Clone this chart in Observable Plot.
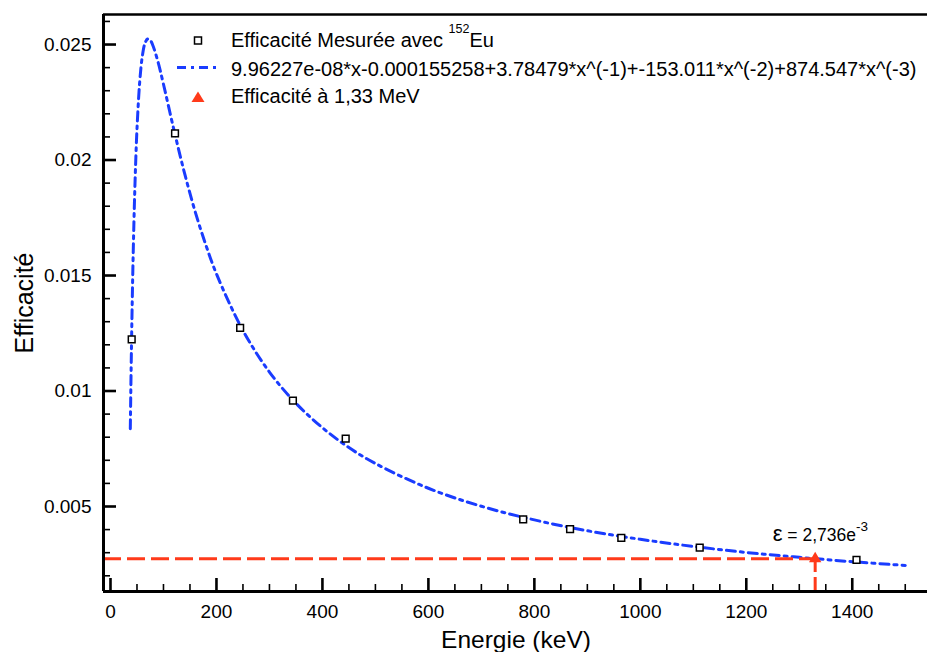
<!DOCTYPE html>
<html>
<head>
<meta charset="utf-8">
<script src="https://cdn.jsdelivr.net/npm/d3@7"></script>
<script src="https://cdn.jsdelivr.net/npm/@observablehq/plot@0.6"></script>
<style>
  body { margin: 0; background: #fff; }
  svg { display: block; }
</style>
</head>
<body>
<div id="chart"></div>
<script>
// ---- Data ----
const measuredEnergy = [40, 121.8, 244.7, 344.3, 443.9, 778.9, 867.4, 964.1, 1112.1, 1408.0];
const measuredEfficiency = [0.01224, 0.02115, 0.01273, 0.00958, 0.00794, 0.00444, 0.00402, 0.00364, 0.00322, 0.00269];

const fitEnergy = [37.4, 38, 39, 40, 42, 45, 48, 50, 55, 60, 65, 70, 75, 80, 90, 100, 120, 140, 160, 180, 200, 250, 300, 350, 400, 450, 500, 600, 700, 800, 900, 1000, 1100, 1200, 1300, 1400, 1500];
const fitEfficiency = [0.00837, 0.00942, 0.01104, 0.01250, 0.01503, 0.01799, 0.02020, 0.02134, 0.02334, 0.02448, 0.02505, 0.02524, 0.02519, 0.02496, 0.02422, 0.02328, 0.02128, 0.01941, 0.01775, 0.01632, 0.01507, 0.01262, 0.01082, 0.00947, 0.00841, 0.00755, 0.00686, 0.00579, 0.00501, 0.00442, 0.00395, 0.00358, 0.00327, 0.00301, 0.00280, 0.00261, 0.00245];

const refEnergy = [1330];
const refEfficiency = [0.002736];

const xMajorTicks = [0, 200, 400, 600, 800, 1000, 1200, 1400];
const xMinorTicks = [50, 100, 150, 250, 300, 350, 450, 500, 550, 650, 700, 750, 850, 900, 950, 1050, 1100, 1150, 1250, 1300, 1350, 1450, 1500];
const yMajorTicks = [0.005, 0.01, 0.015, 0.02, 0.025];
const yMinorTicks = [0.002, 0.003, 0.004, 0.006, 0.007, 0.008, 0.009, 0.011, 0.012, 0.013, 0.014, 0.016, 0.017, 0.018, 0.019, 0.021, 0.022, 0.023, 0.024, 0.026];

const xDomain = [-13.2, 1542];
const yDomain = [0.00132, 0.0263];

const xTitle = "Energie (keV)";
const yTitle = "Efficacité";
const legendMeasured = ["Efficacité Mesurée avec ", "152", "Eu"];
const legendFit = "9.96227e-08*x-0.000155258+3.78479*x^(-1)+-153.011*x^(-2)+874.547*x^(-3)";
const legendRef = "Efficacité à 1,33 MeV";
const annotationParts = ["ε", " = 2,736e", "-3"];

// ---- Styles ----
const BLUE = "#1a3cff";
const RED = "#ff3a1a";
const FONT = "'Liberation Sans', Arial, Helvetica, sans-serif";
const DASHDOT = "9,5,3,5";
const LEGEND_SIZE = 20;

const measured = measuredEnergy.map((e, i) => ({e, v: measuredEfficiency[i]}));
const fit = fitEnergy.map((e, i) => ({e, v: fitEfficiency[i]}));
const ref = refEnergy.map((e, i) => ({e, v: refEfficiency[i]}));

const chart = Plot.plot({
  width: 927,
  height: 652,
  marginLeft: 103,
  marginRight: 0,
  marginTop: 14,
  marginBottom: 61,
  style: {fontFamily: FONT, fontSize: "19px", background: "white", color: "black", overflow: "visible"},
  x: {domain: xDomain},
  y: {domain: yDomain},
  marks: [
    // fit curve
    Plot.line(fit, {x: "e", y: "v", stroke: BLUE, strokeWidth: 3, strokeDasharray: DASHDOT, curve: "catmull-rom"}),
    // measured points
    Plot.dot(measured, {x: "e", y: "v", symbol: "square", r: 3.8, stroke: "black", fill: "white", strokeWidth: 1.5}),
    // reference dashed lines
    Plot.ruleY(ref, {y: "v", x1: xDomain[0], x2: "e", stroke: RED, strokeWidth: 3, strokeDasharray: "18,6"}),
    Plot.ruleX(ref, {x: "e", y1: yDomain[0], y2: "v", stroke: RED, strokeWidth: 3, strokeDasharray: "14,5"}),
    Plot.dot(ref, {x: "e", y: "v", symbol: "triangle", r: 4.6, fill: RED, stroke: "none"}),
    // frame lines
    Plot.ruleX([xDomain[0]], {strokeWidth: 3}),
    Plot.ruleY([yDomain[0]], {strokeWidth: 3}),
    Plot.ruleY([yDomain[1]], {strokeWidth: 2.7}),
    // ticks (inward)
    Plot.axisX(xMajorTicks, {tickSize: -13, strokeWidth: 2.6, tickFormat: () => "", label: null}),
    Plot.axisX(xMinorTicks, {tickSize: -7, strokeWidth: 1.6, tickFormat: () => "", label: null}),
    Plot.axisX(xMajorTicks, {tickSize: 0, tickPadding: 13, tickFormat: d => String(d), fontSize: 19, label: null}),
    Plot.axisY(yMajorTicks, {tickSize: -13, strokeWidth: 2.6, tickFormat: () => "", label: null}),
    Plot.axisY(yMinorTicks, {tickSize: -7, strokeWidth: 1.6, tickFormat: () => "", label: null}),
    Plot.axisY(yMajorTicks, {tickSize: 0, tickPadding: 12, tickFormat: d => String(d), fontSize: 19, label: null})
  ]
});

document.getElementById("chart").append(chart);

const svg = d3.select(chart);
const sx = chart.scale("x"), sy = chart.scale("y");

// Axis titles
svg.append("text")
  .attr("x", 516).attr("y", 648)
  .attr("text-anchor", "middle")
  .attr("font-size", 24.5).attr("font-family", FONT).attr("fill", "black")
  .text(xTitle);
svg.append("text")
  .attr("transform", "translate(33,303) rotate(-90)")
  .attr("text-anchor", "middle")
  .attr("font-size", 25).attr("font-family", FONT).attr("fill", "black")
  .text(yTitle);

// Annotation epsilon
{
  const px = sx.apply(refEnergy[0]);
  const py = sy.apply(refEfficiency[0]);
  const t = svg.append("text")
    .attr("x", px - 42).attr("y", py - 17)
    .attr("text-anchor", "start")
    .attr("font-family", FONT).attr("fill", "black");
  t.append("tspan").attr("font-size", 22).text(annotationParts[0]);
  t.append("tspan").attr("font-size", 17.5).text(annotationParts[1]);
  t.append("tspan").attr("font-size", 13.5).attr("dy", -10).text(annotationParts[2]);
}

// Legend
{
  const g = svg.append("g").attr("font-family", FONT).attr("fill", "black").attr("text-anchor", "start");
  // measured square
  g.append("rect").attr("x", 194.5).attr("y", 37).attr("width", 7).attr("height", 7)
    .attr("fill", "white").attr("stroke", "black").attr("stroke-width", 1.5);
  const t1 = g.append("text").attr("x", 231).attr("y", 47).attr("font-size", LEGEND_SIZE).attr("text-anchor", "start");
  t1.append("tspan").text(legendMeasured[0]);
  t1.append("tspan").attr("font-size", 12.5).attr("dy", -14).text(legendMeasured[1]);
  t1.append("tspan").attr("font-size", LEGEND_SIZE).attr("dy", 14).text(legendMeasured[2]);
  // fit line
  g.append("line").attr("x1", 177).attr("x2", 218).attr("y1", 67.5).attr("y2", 67.5)
    .attr("stroke", BLUE).attr("stroke-width", 3).attr("stroke-dasharray", DASHDOT);
  g.append("text").attr("x", 231).attr("y", 76).attr("font-size", LEGEND_SIZE).attr("text-anchor", "start").text(legendFit);
  // ref triangle
  g.append("path").attr("d", "M198,91.5L204.5,102L191.5,102Z").attr("fill", RED);
  g.append("text").attr("x", 231).attr("y", 102.5).attr("font-size", LEGEND_SIZE).attr("text-anchor", "start").text(legendRef);
}
</script>
</body>
</html>
